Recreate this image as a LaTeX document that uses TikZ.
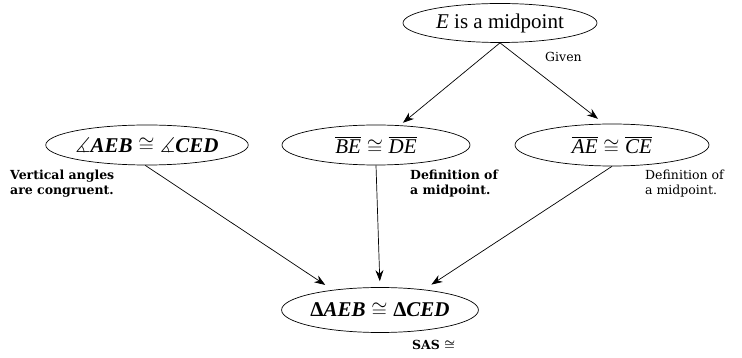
\documentclass[tikz,border=0pt]{standalone}
\usepackage{amsmath,amssymb}
\usepackage{fontspec}
\setmainfont{Liberation Serif}
\newfontfamily\labelfont{DejaVu Serif}
\usetikzlibrary{shapes.geometric,arrows.meta}
\tikzset{
  stmt/.style={draw, ellipse, inner sep=0pt, line width=0.7pt, minimum width=194pt, minimum height=40pt, font=\fontsize{21}{23}\selectfont},
  note/.style={align=left, anchor=north west, inner sep=0pt, font=\labelfont\fontsize{12.5}{14.5}\selectfont},
  link/.style={line width=0.7pt, -{Stealth[length=11pt,width=8pt]}, shorten >=4pt}
}
\newcommand{\ang}{\ensuremath{\measuredangle}}
\begin{document}
\begin{tikzpicture}[x=1pt,y=-1pt]
\useasboundingbox (0,0) rectangle (742,358);
\node[stmt, minimum height=39pt] (top) at (500,23) {\textit{E} is a midpoint};
\node[stmt] (lft) at (147,145) {\textbf{$\boldsymbol{\ang}$\textit{AEB}}$\;\cong\;$\textbf{$\boldsymbol{\ang}$\textit{CED}}};
\node[stmt, minimum width=188pt] (mid) at (376,145) {$\overline{\textit{BE}}$$\;\cong\;$$\overline{\textit{DE}}$};
\node[stmt, minimum height=42pt] (rgt) at (612,145) {$\overline{\textit{AE}}$$\;\cong\;$$\overline{\textit{CE}}$};
\node[stmt, minimum width=195pt, minimum height=45pt] (bot) at (380,310) {\textbf{Δ\textit{AEB}}$\;\cong\;$\textbf{Δ\textit{CED}}};
\node[note, anchor=west] (given) at (545,57) {Given};
\node[note] (n1) at (10,170) {\textbf{Vertical angles}\\\textbf{are congruent.}};
\node[note] (n2) at (410,170) {\textbf{Definition of}\\\textbf{a midpoint.}};
\node[note] (n3) at (645,170) {Definition of\\a midpoint.};
\node[note, anchor=west] (sas) at (412,345) {\textbf{SAS $\boldsymbol{\cong}$}};
\draw[link] (top.south) -- (mid);
\draw[link, shorten >=8pt] (top.south) -- (rgt.110);
\draw[link, shorten >=9pt] (lft.-95) -- (bot.157);
\draw[link, shorten >=6pt] (mid.south) -- (bot.north);
\draw[link, shorten >=9pt] (rgt.-90) -- (bot.25);
\end{tikzpicture}
\end{document}
